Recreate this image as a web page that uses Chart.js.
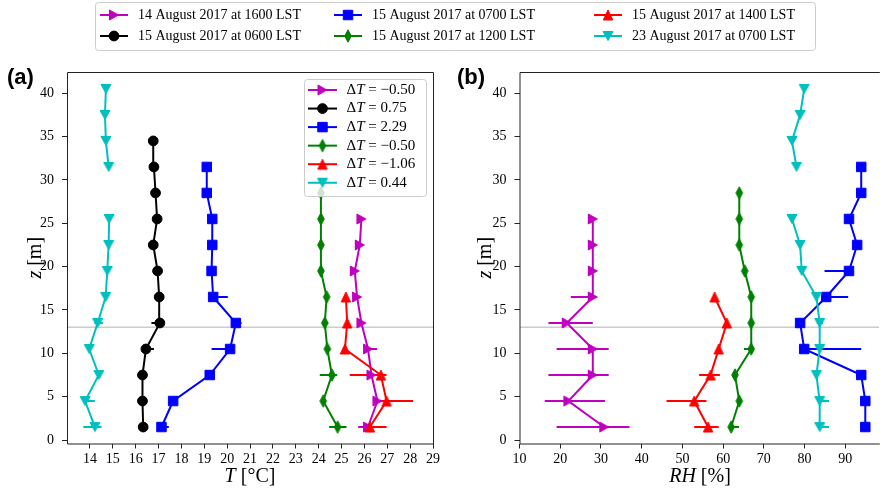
<!DOCTYPE html>
<html>
<head>
<meta charset="utf-8">
<script src="https://cdn.jsdelivr.net/npm/chart.js@4"></script>
<style>
  body { margin: 0; background: #fff; }
  #wrap { position: relative; width: 887px; height: 489px; overflow: hidden; }
  #wrap canvas { position: absolute; left: 0; top: 0; }
  .panel { position: absolute; font: bold 22px "Liberation Sans", Arial, sans-serif; line-height: 22px; }
</style>
</head>
<body>
<div id="wrap">
  <canvas id="left" width="887" height="489"></canvas>
  <canvas id="right" width="887" height="489"></canvas>
  <div class="panel" style="left:7px;top:66px">(a)</div>
  <div class="panel" style="left:457px;top:66px">(b)</div>
</div>
<script>
// heights of the measurements (m)
const zLevels = [1.5, 4.5, 7.5, 10.5, 13.5, 16.5, 19.5, 22.5, 25.5, 28.5, 31.5, 34.5, 37.5, 40.5];
const zTicks = [0, 5, 10, 15, 20, 25, 30, 35, 40];
const tTicks = [14, 15, 16, 17, 18, 19, 20, 21, 22, 23, 24, 25, 26, 27, 28, 29];
const rhTicks = [10, 20, 30, 40, 50, 60, 70, 80, 90];
const refHeight = 13;

const names = [
  "14 August 2017 at 1600 LST", "15 August 2017 at 0600 LST", "15 August 2017 at 0700 LST",
  "15 August 2017 at 1200 LST", "15 August 2017 at 1400 LST", "23 August 2017 at 0700 LST"
];
const deltaT = ["\u22120.50", "0.75", "2.29", "\u22120.50", "\u22121.06", "0.44"];
const colors = ["#bf00bf", "#000000", "#0000ff", "#008000", "#ff0000", "#00bfbf"];

// temperature profiles (degC), bottom to top
const t14Aug1600 = [26.16, 26.57, 26.31, 26.16, 25.87, 25.68, 25.58, 25.80, 25.87, null, null, null, null, null];
const t15Aug0600 = [16.33, 16.30, 16.30, 16.45, 17.06, 17.03, 16.96, 16.77, 16.94, 16.87, 16.80, 16.77, null, null];
const t15Aug0700 = [17.13, 17.64, 19.24, 20.13, 20.38, 19.39, 19.32, 19.35, 19.35, 19.11, 19.11, null, null, null];
const t15Aug1200 = [24.83, 24.20, 24.58, 24.38, 24.27, 24.35, 24.10, 24.10, 24.10, 24.10, null, null, null, null];
const t15Aug1400 = [26.24, 26.97, 26.72, 25.15, 25.25, 25.19, null, null, null, null, null, null, null, null];
const t23Aug0700 = [14.22, 13.79, 14.39, 13.97, 14.34, 14.69, 14.76, 14.82, 14.84, null, 14.82, 14.70, 14.66, 14.70];

// temperature ranges [z, low, high]
const tErr14Aug1600 = [[1.5, 25.73, 26.3], [10.5, 26.16, 26.56]];
const tErr15Aug0600 = [[13.5, 16.69, 17.06], [10.5, 16.45, 16.80]];
const tErr15Aug0700 = [[1.5, 17.13, 17.45], [10.5, 19.32, 20.13], [13.5, 20.25, 20.63], [16.5, 19.39, 20.03]];
const tErr15Aug1200 = [[1.5, 24.46, 25.22], [7.5, 24.05, 24.81], [13.5, 24.18, 24.40]];
const tErr15Aug1400 = [[1.5, 26.0, 26.97], [4.5, 26.6, 28.13], [7.5, 25.36, 26.97]];
const tErr23Aug0700 = [[1.5, 13.71, 14.51], [4.5, 13.79, 14.22], [13.5, 14.19, 14.58]];

// relative humidity profiles (%), bottom to top
const rh14Aug1600 = [30.8, 22.0, 28.0, 28.0, 21.6, 28.0, 28.0, 28.0, 28.0, null, null, null, null, null];
const rh15Aug0600 = [null, null, null, null, null, null, null, null, null, null, null, null, null, null];
const rh15Aug0700 = [94.9, 94.9, 93.9, 79.9, 78.9, 85.3, 90.9, 92.9, 90.9, 93.9, 93.9, null, null, null];
const rh15Aug1200 = [61.97, 63.96, 62.9, 66.9, 66.9, 66.9, 65.3, 63.96, 63.96, 63.96, null, null, null, null];
const rh15Aug1400 = [56.3, 52.9, 56.9, 58.9, 60.9, 57.9, null, null, null, null, null, null, null, null];
const rh23Aug0700 = [83.7, 83.7, 82.9, 83.7, 83.7, 82.9, 79.3, 78.9, 76.9, null, 78.0, 76.9, 78.9, 79.9];

const rhErr14Aug1600 = [[1.5, 19.1, 37.0], [4.5, 16.2, 31.0], [7.5, 17.1, 31.9], [10.5, 19.1, 31.9], [13.5, 17.1, 28.0], [16.5, 22.6, 28.0]];
const rhErr15Aug0600 = [];
const rhErr15Aug0700 = [[10.5, 79.9, 93.9], [16.5, 85.3, 90.7], [19.5, 84.9, 90.9], [22.5, 92.0, 93.8]];
const rhErr15Aug1200 = [[1.5, 61.97, 63.9], [10.5, 65.1, 66.9]];
const rhErr15Aug1400 = [[1.5, 52.9, 58.9], [4.5, 46.1, 55.9], [7.5, 54.1, 59.2]];
const rhErr23Aug0700 = [[1.5, 83.7, 86.0], [4.5, 83.7, 86.0], [13.5, 83.0, 84.5]];

const serif = '"Liberation Serif", "Times New Roman", serif';

function shape(kind, color) {
  const c = document.createElement("canvas");
  c.width = 16; c.height = 16;
  const g = c.getContext("2d");
  g.fillStyle = color; g.strokeStyle = color; g.lineWidth = 1;
  g.beginPath();
  if (kind === "down") { g.moveTo(3, 3.5); g.lineTo(13, 3.5); g.lineTo(8, 12.5); }
  if (kind === "up") { g.moveTo(3.3, 13); g.lineTo(12.7, 13); g.lineTo(8, 3); }
  if (kind === "right") { g.moveTo(3.5, 3); g.lineTo(12.5, 8); g.lineTo(3.5, 13); }
  if (kind === "thin") { g.moveTo(8, 1.8); g.lineTo(11.3, 8); g.lineTo(8, 14.2); g.lineTo(4.7, 8); }
  g.closePath(); g.fill(); g.stroke();
  return c;
}

const markerStyles = [
  { pointStyle: shape("right", colors[0]), radius: 5 },
  { pointStyle: "circle", radius: 4.9 },
  { pointStyle: "rect", radius: 6.7 },
  { pointStyle: shape("thin", colors[3]), radius: 5 },
  { pointStyle: shape("up", colors[4]), radius: 5 },
  { pointStyle: shape("down", colors[5]), radius: 5 }
];

function drawRich(ctx, parts, x, y, size, centered) {
  const fontOf = p => (p[1] ? "italic " : "") + size + "px " + serif;
  let w = 0;
  parts.forEach(p => { ctx.font = fontOf(p); w += ctx.measureText(p[0]).width; });
  let cx = centered ? x - w / 2 : x;
  ctx.textAlign = "left"; ctx.textBaseline = "middle";
  parts.forEach(p => { ctx.font = fontOf(p); ctx.fillText(p[0], cx, y); cx += ctx.measureText(p[0]).width; });
}

function legendItem(ctx, i, x0, len, y) {
  ctx.strokeStyle = colors[i]; ctx.fillStyle = colors[i]; ctx.lineWidth = 2;
  ctx.beginPath(); ctx.moveTo(x0, y); ctx.lineTo(x0 + len, y); ctx.stroke();
  ctx.lineWidth = 1;
  Chart.helpers.drawPoint(ctx, { pointStyle: markerStyles[i].pointStyle, radius: markerStyles[i].radius, rotation: 0, borderWidth: 1 }, x0 + len / 2, y);
}

const deco = {
  id: "deco",
  beforeDatasetsDraw(chart, args, o) {
    const { ctx, chartArea: a, scales: { x, y } } = chart;
    ctx.save();
    ctx.beginPath(); ctx.rect(a.left, a.top, a.right - a.left, a.bottom - a.top); ctx.clip();
    // reference height line
    const yr = y.getPixelForValue(refHeight);
    ctx.strokeStyle = "#cccccc"; ctx.lineWidth = 1.5;
    ctx.beginPath(); ctx.moveTo(a.left, yr); ctx.lineTo(a.right, yr); ctx.stroke();
    // horizontal range bars
    ctx.lineWidth = 2;
    chart.data.datasets.forEach(ds => {
      ctx.strokeStyle = ds.borderColor;
      ds.errs.forEach(e => {
        const py = y.getPixelForValue(e[0]);
        ctx.beginPath();
        ctx.moveTo(x.getPixelForValue(e[1]), py);
        ctx.lineTo(x.getPixelForValue(e[2]), py);
        ctx.stroke();
      });
    });
    ctx.restore();
  },
  afterDraw(chart, args, o) {
    const { ctx, chartArea: a } = chart;
    ctx.save();
    // spines
    ctx.strokeStyle = "#222"; ctx.lineWidth = 1;
    ctx.beginPath();
    ctx.moveTo(a.right + 0.5, a.top + 0.5); ctx.lineTo(a.left + 0.5, a.top + 0.5);
    ctx.lineTo(a.left + 0.5, a.bottom + 0.5); ctx.lineTo(a.right + 0.5, a.bottom + 0.5);
    if (o.rightSpine) ctx.lineTo(a.right + 0.5, a.top + 0.5);
    ctx.stroke();
    // axis titles
    ctx.fillStyle = "#000";
    drawRich(ctx, o.xTitle, o.xTitleX, 477, 20, true);
    ctx.save();
    ctx.translate(o.yTitleX, (a.top + a.bottom) / 2);
    ctx.rotate(-Math.PI / 2);
    drawRich(ctx, [["z", true], [" [m]", false]], 0, 0, 20, true);
    ctx.restore();

    if (o.legends) {
      // legend inside panel (a)
      ctx.fillStyle = "rgba(255,255,255,0.8)"; ctx.strokeStyle = "#cccccc"; ctx.lineWidth = 1;
      ctx.beginPath(); ctx.roundRect(304.5, 79.5, 122, 117, 3); ctx.fill(); ctx.stroke();
      names.forEach((n, i) => {
        const yy = 90 + i * 18.55;
        legendItem(ctx, i, 308, 29, yy);
        ctx.fillStyle = "#000";
        drawRich(ctx, [["\u0394", false], ["T", true], [" = " + deltaT[i], false]], 346.5, yy, 15, false);
      });
      // legend above both panels
      ctx.fillStyle = "#fff"; ctx.strokeStyle = "#cccccc";
      ctx.beginPath(); ctx.roundRect(95.5, 2.5, 720, 48, 3); ctx.fill(); ctx.stroke();
      const colX = [100, 334, 594];
      const rowY = [15, 36];
      names.forEach((n, i) => {
        const cx = colX[Math.floor(i / 2)], yy = rowY[i % 2];
        legendItem(ctx, i, cx, 28, yy);
        ctx.fillStyle = "#000";
        drawRich(ctx, [[n, false]], cx + 38, yy, 14, false);
      });
    }
    ctx.restore();
  }
};

function makeSets(vals, errs) {
  return names.map((n, i) => ({
    label: n,
    data: zLevels.map((z, k) => ({ x: vals[i][k], y: z })),
    errs: errs[i],
    borderColor: colors[i],
    backgroundColor: colors[i],
    borderWidth: 2,
    pointStyle: markerStyles[i].pointStyle,
    pointRadius: markerStyles[i].radius,
    pointBorderWidth: 1,
    pointBorderColor: colors[i],
    pointBackgroundColor: colors[i],
    spanGaps: false,
    tension: 0,
    order: 5 - i
  }));
}

function tickGrid() {
  return { drawOnChartArea: false, drawTicks: true, tickLength: 5, tickColor: "#222", tickWidth: 1 };
}

function makeChart(id, vals, errs, xTicksList, xMin, xMax, padding, yWidth, decoOpts) {
  return new Chart(document.getElementById(id), {
    type: "line",
    data: { datasets: makeSets(vals, errs) },
    options: {
      responsive: false,
      animation: false,
      layout: { padding: padding },
      plugins: { legend: { display: false }, tooltip: { enabled: false }, deco: decoOpts },
      scales: {
        x: {
          type: "linear", min: xMin, max: xMax,
          afterBuildTicks: s => { s.ticks = xTicksList.map(v => ({ value: v })); },
          afterFit: s => { s.height = 45.5; },
          grid: tickGrid(),
          border: { display: false },
          ticks: { color: "#000", font: { family: serif, size: 14 }, padding: 2, autoSkip: false, maxRotation: 0 }
        },
        y: {
          type: "linear", min: -0.4, max: 42.45,
          afterBuildTicks: s => { s.ticks = zTicks.map(v => ({ value: v })); },
          afterFit: s => { s.width = yWidth; },
          grid: tickGrid(),
          border: { display: false },
          ticks: { color: "#000", font: { family: serif, size: 14 }, padding: 8 }
        }
      }
    },
    plugins: [deco]
  });
}

makeChart("left",
  [t14Aug1600, t15Aug0600, t15Aug0700, t15Aug1200, t15Aug1400, t23Aug0700],
  [tErr14Aug1600, tErr15Aug0600, tErr15Aug0700, tErr15Aug1200, tErr15Aug1400, tErr23Aug0700],
  tTicks, 13, 29, { top: 72, right: 454, bottom: 0, left: 0 }, 67,
  { xTitle: [["T", true], [" [\u00b0C]", false]], xTitleX: 250, yTitleX: 36, rightSpine: true, legends: true });

makeChart("right",
  [rh14Aug1600, rh15Aug0600, rh15Aug0700, rh15Aug1200, rh15Aug1400, rh23Aug0700],
  [rhErr14Aug1600, rhErr15Aug0600, rhErr15Aug0700, rhErr15Aug1200, rhErr15Aug1400, rhErr23Aug0700],
  rhTicks, 10, 98.34, { top: 72, right: 0, bottom: 0, left: 0 }, 519.5,
  { xTitle: [["RH", true], [" [%]", false]], xTitleX: 700, yTitleX: 486, rightSpine: false, legends: false });
</script>
</body>
</html>
